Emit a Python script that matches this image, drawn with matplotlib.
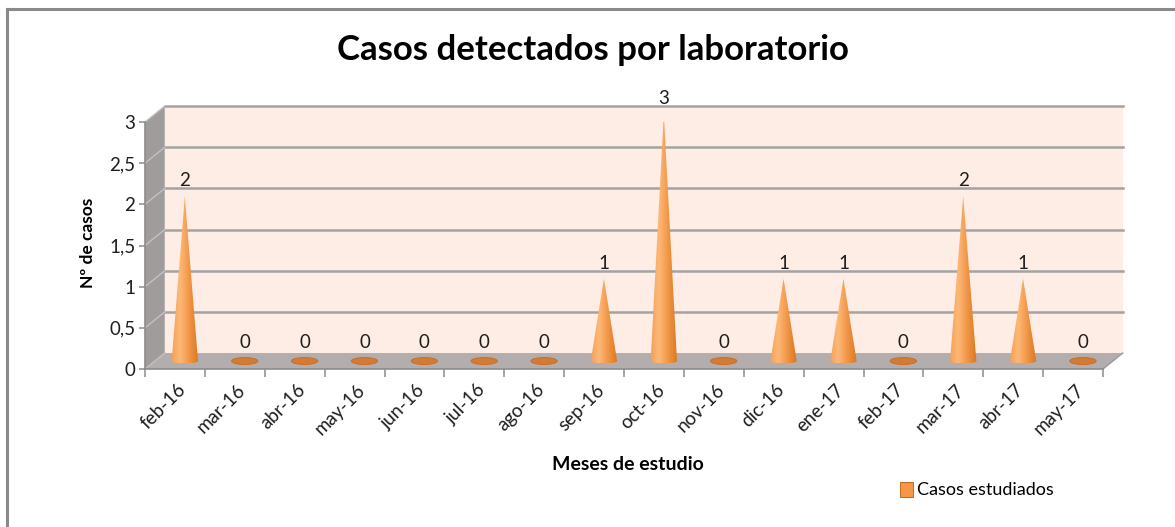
import numpy as np
import matplotlib
matplotlib.use("Agg")
import matplotlib.pyplot as plt
from matplotlib.patches import Polygon, PathPatch, Patch, Ellipse
from matplotlib.path import Path
from matplotlib.lines import Line2D
from matplotlib.colors import LinearSegmentedColormap
import matplotlib.transforms as mtrans

plt.rcParams['font.family'] = ['Lato', 'DejaVu Sans']

# ---------------- data ----------------
months = ["feb-16", "mar-16", "abr-16", "may-16", "jun-16", "jul-16", "ago-16",
          "sep-16", "oct-16", "nov-16", "dic-16", "ene-17", "feb-17", "mar-17",
          "abr-17", "may-17"]
casos = [2, 0, 0, 0, 0, 0, 0, 1, 3, 0, 1, 1, 0, 2, 1, 0]
y_ticks = [0, 0.5, 1, 1.5, 2, 2.5, 3]
y_tick_labels = ["0", "0,5", "1", "1,5", "2", "2,5", "3"]
title = "Casos detectados por laboratorio"
x_label = "Meses de estudio"
y_label = "Nº de casos"
series_name = "Casos estudiados"

# ---------------- figure ----------------
W, H = 1175, 527
fig = plt.figure(figsize=(W / 100, H / 100), dpi=100)
fig.patch.set_facecolor("white")

# frame border (top and left visible)
fig.add_artist(Line2D([7 / W, 7 / W], [0, 1 - 9 / H], transform=fig.transFigure,
                      color="#8a8a8a", lw=2.2))
fig.add_artist(Line2D([7 / W, 1], [1 - 9 / H, 1 - 9 / H], transform=fig.transFigure,
                      color="#8a8a8a", lw=2.2))

left, right, bottom, top = 145, 1103, 369, 122
ax = fig.add_axes([left / W, 1 - bottom / H, (right - left) / W, (bottom - top) / H])
n = len(months)
ymax = 3
ax.set_xlim(0, n)
ax.set_ylim(0, ymax)
ax.patch.set_alpha(0)
for s in ["top", "right"]:
    ax.spines[s].set_visible(False)
for s in ["left", "bottom"]:
    ax.spines[s].set_color("#8c8c8c")
    ax.spines[s].set_linewidth(1.2)
    ax.spines[s].set_zorder(6)

DX = 0.33   # depth offset in category units
DY = 0.194  # depth offset in value units

# back wall
ax.add_patch(Polygon([(DX, DY), (n + DX, DY), (n + DX, ymax + DY), (DX, ymax + DY)],
                     closed=True, facecolor="#fdede5", edgecolor="none",
                     clip_on=False, zorder=0))
# side wall
ax.add_patch(Polygon([(0, 0), (DX, DY), (DX, ymax + DY), (0, ymax)], closed=True,
                     facecolor="#a09c9c", edgecolor="none", clip_on=False, zorder=1))
# floor
ax.add_patch(Polygon([(0, 0), (n, 0), (n + DX, DY), (DX, DY)], closed=True,
                     facecolor="#b4adad", edgecolor="none", clip_on=False, zorder=1))
ax.plot([n, n + DX], [0, DY], color="#9a9a9a", lw=1.0, clip_on=False, zorder=2)

# gridlines on back wall + side wall
for v in y_ticks:
    if v > 0:
        ax.plot([DX, n + DX], [v + DY, v + DY], color="#a3a3a3", lw=1.8,
                clip_on=False, zorder=2)
    ax.plot([0, DX], [v, v + DY], color="#c4c0c0", lw=1.0, clip_on=False, zorder=2)

# cones
cmap = LinearSegmentedColormap.from_list(
    "cone", [(0.0, "#f3a05a"), (0.3, "#fdb877"), (0.6, "#f39a4c"), (1.0, "#d9761f")])
grad = np.linspace(0, 1, 256).reshape(1, -1)
w = 0.22         # half width of cone base (category units)
eh = 0.03        # half height of base ellipse (value units)
for i, v in enumerate(casos):
    cx = i + 0.5 + DX / 2
    cy = DY / 2
    if v > 0:
        t = np.linspace(0, np.pi, 40)
        arc_x = cx + w * np.cos(t)
        arc_y = cy - eh * np.sin(t)
        verts = [(cx, v + cy)] + list(zip(arc_x, arc_y)) + [(cx, v + cy)]
        codes = [Path.MOVETO] + [Path.LINETO] * (len(verts) - 2) + [Path.CLOSEPOLY]
        path = Path(verts, codes)
        patch = PathPatch(path, facecolor="none", edgecolor="none", zorder=4,
                          clip_on=False)
        ax.add_patch(patch)
        im = ax.imshow(grad, cmap=cmap, aspect="auto", interpolation="bilinear",
                       extent=(cx - w, cx + w, cy - eh, v + cy), zorder=4)
        im.set_clip_path(patch)
        label_y = v + cy
    else:
        ax.add_patch(Ellipse((cx, cy), 2 * w, 0.085, facecolor="#d47a32",
                             edgecolor="#c46c28", lw=0.6, zorder=4))
        label_y = cy + 0.035
    ax.annotate(str(v), (cx, label_y), xytext=(0, 5), textcoords="offset points",
                ha="center", va="bottom", fontsize=13.5, color="#1e1e1e", zorder=7,
                annotation_clip=False)

ax.set_xlim(0, n)
ax.set_ylim(0, ymax)

# y axis ticks
ax.set_yticks(y_ticks)
ax.set_yticklabels(y_tick_labels, fontsize=13.5, color="#1e1e1e")
ax.tick_params(axis="y", length=4, width=1.1, color="#8c8c8c", pad=3)

# x axis: ticks at boundaries, labels at category centres
ax.set_xticks(np.arange(0, n + 1))
ax.set_xticklabels([])
ax.tick_params(axis="x", which="major", length=6, width=1.1, color="#8c8c8c")
ax.set_xticks(np.arange(n) + 0.5, minor=True)
ax.set_xticklabels(months, minor=True, rotation=45, ha="right", va="center",
                   rotation_mode="anchor", fontsize=13.5, color="#1e1e1e")
ax.tick_params(axis="x", which="minor", length=0, pad=13)
offset = mtrans.ScaledTranslation(8 / 100, 0, fig.dpi_scale_trans)
for lab in ax.get_xticklabels(minor=True):
    lab.set_transform(lab.get_transform() + offset)

# texts
fig.text(593 / W, 1 - 50 / H, title, ha="center", va="center", fontsize=25,
         fontweight="bold", color="#000000")
fig.text(88 / W, 1 - 243 / H, y_label, ha="center", va="center", rotation=90,
         fontsize=12.5, fontweight="bold", color="#000000")
fig.text(628 / W, 1 - 465 / H, x_label, ha="center", va="center", fontsize=14,
         fontweight="bold", color="#000000")

leg = fig.legend(handles=[Patch(facecolor="#f79646", edgecolor="#c0712a", lw=0.8,
                                label=series_name)],
                 loc="center right", bbox_to_anchor=(1054 / W, 1 - 490 / H),
                 frameon=False, fontsize=13, handlelength=0.7, handleheight=0.9,
                 handletextpad=0.25, borderaxespad=0, borderpad=0)

fig.savefig("out.png", dpi=100)
